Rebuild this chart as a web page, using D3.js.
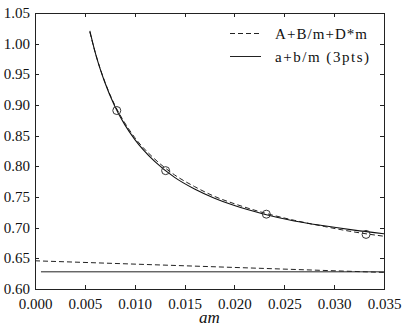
<!DOCTYPE html>
<meta charset="utf-8">
<style>
  html, body {
    margin: 0;
    padding: 0;
    background: #fff;
    overflow: hidden;
  }
  .axis text {
    font-family: "Liberation Serif", "Times New Roman", "DejaVu Serif", serif;
    font-size: 15px;
    fill: #111;
  }
  .axis path,
  .axis line {
    fill: none;
    stroke: #222;
    stroke-width: 1px;
    shape-rendering: crispEdges;
  }
  .legend text {
    font-family: "Liberation Serif", "Times New Roman", "DejaVu Serif", serif;
    font-size: 15px;
    fill: #111;
  }
  .xlabel {
    font-family: "Liberation Serif", "Times New Roman", "DejaVu Serif", serif;
    font-style: italic;
    font-size: 17px;
    fill: #111;
  }
</style>
<svg></svg>
<script src="https://d3js.org/d3.v7.min.js"></script>
<script>

// data points (am, value)
var pointsAm = [0.0082, 0.0131, 0.0232, 0.0332];
var pointsVal = [0.891, 0.793, 0.722, 0.689];

// fit A+B/m+D*m
var fitAm = [0.0055, 0.006, 0.007, 0.008, 0.009, 0.010, 0.012, 0.014, 0.016, 0.018, 0.020, 0.023, 0.026, 0.029, 0.032, 0.035];
var fitVal = [1.019, 0.988, 0.938, 0.900, 0.871, 0.847, 0.812, 0.786, 0.767, 0.751, 0.739, 0.724, 0.712, 0.702, 0.693, 0.686];

// fit a+b/m (3pts)
var fit3Am = [0.0055, 0.006, 0.007, 0.008, 0.009, 0.010, 0.012, 0.014, 0.016, 0.018, 0.020, 0.023, 0.026, 0.029, 0.032, 0.035];
var fit3Val = [1.021, 0.988, 0.937, 0.898, 0.868, 0.844, 0.808, 0.782, 0.763, 0.748, 0.736, 0.722, 0.711, 0.703, 0.696, 0.690];

// A + D*m line and constant a
var lineAm = [0.0, 0.035];
var lineVal = [0.646, 0.627];
var constAm = [0.0006, 0.035];
var constVal = [0.628, 0.628];

var xTicks = [0, 0.005, 0.010, 0.015, 0.020, 0.025, 0.030, 0.035];
var yTicks = [0.60, 0.65, 0.70, 0.75, 0.80, 0.85, 0.90, 0.95, 1.00, 1.05];

var legendLabels = ["A+B/m+D*m", "a+b/m (3pts)"];

var margin = {top: 13, right: 23, bottom: 44, left: 35},
    width = 407 - margin.left - margin.right,
    height = 333 - margin.top - margin.bottom;

var svg = d3.select("svg")
    .attr("width", 407)
    .attr("height", 333);

var g = svg.append("g")
    .attr("transform", "translate(" + margin.left + "," + margin.top + ")");

var x = d3.scaleLinear().domain([0, 0.035]).range([0, width]),
    y = d3.scaleLinear().domain([0.60, 1.05]).range([height, 0]);

function zip(a, b) { return a.map(function(v, i) { return [v, b[i]]; }); }

var line = d3.line()
    .x(function(d) { return x(d[0]); })
    .y(function(d) { return y(d[1]); })
    .curve(d3.curveMonotoneX);

// axes with inward ticks on all four sides
g.append("g")
    .attr("class", "axis axis--x")
    .attr("transform", "translate(0," + height + ")")
    .call(d3.axisBottom(x).tickValues(xTicks).tickFormat(d3.format(".3f")).tickSizeInner(-4).tickSizeOuter(0).tickPadding(9));

g.append("g")
    .attr("class", "axis axis--x2")
    .call(d3.axisTop(x).tickValues(xTicks).tickFormat("").tickSizeInner(-4).tickSizeOuter(0));

g.append("g")
    .attr("class", "axis axis--y")
    .call(d3.axisLeft(y).tickValues(yTicks).tickFormat(d3.format(".2f")).tickSizeInner(-4).tickSizeOuter(0).tickPadding(5));

g.append("g")
    .attr("class", "axis axis--y2")
    .attr("transform", "translate(" + width + ",0)")
    .call(d3.axisRight(y).tickValues(yTicks).tickFormat("").tickSizeInner(-4).tickSizeOuter(0));

// drop the default sans-serif set by d3 axis
g.selectAll(".axis").attr("font-family", null).attr("font-size", null);
g.selectAll(".axis--y text").attr("dy", "0.3em");

// lines
g.append("path")
    .datum(zip(lineAm, lineVal))
    .attr("d", line)
    .attr("fill", "none")
    .attr("stroke", "#222")
    .attr("stroke-dasharray", "5,3");

g.append("path")
    .datum(zip(constAm, constVal))
    .attr("d", line)
    .attr("fill", "none")
    .attr("stroke", "#222");

g.append("path")
    .datum(zip(fitAm, fitVal))
    .attr("d", line)
    .attr("fill", "none")
    .attr("stroke", "#222")
    .attr("stroke-dasharray", "5,3");

g.append("path")
    .datum(zip(fit3Am, fit3Val))
    .attr("d", line)
    .attr("fill", "none")
    .attr("stroke", "#111")
    .attr("stroke-width", 1.1);

g.selectAll(".pt")
    .data(zip(pointsAm, pointsVal))
  .enter().append("circle")
    .attr("class", "pt")
    .attr("cx", function(d) { return x(d[0]); })
    .attr("cy", function(d) { return y(d[1]); })
    .attr("r", 4)
    .attr("fill", "none")
    .attr("stroke", "#333");

// frame
g.append("rect")
    .attr("x", 0.5)
    .attr("y", 0.5)
    .attr("width", width)
    .attr("height", height)
    .attr("fill", "none")
    .attr("stroke", "#222")
    .style("shape-rendering", "crispEdges");

// axis label
svg.append("text")
    .attr("class", "xlabel")
    .attr("x", margin.left + width / 2)
    .attr("y", 323)
    .attr("text-anchor", "middle")
    .text("am");

// legend
var legend = svg.append("g").attr("class", "legend");
var legendRows = legend.selectAll("g")
    .data(legendLabels)
  .enter().append("g")
    .attr("transform", function(d, i) { return "translate(230," + (33.5 + i * 23) + ")"; });

legendRows.append("line")
    .attr("x1", 0)
    .attr("x2", 31)
    .attr("stroke", "#222")
    .attr("stroke-dasharray", function(d, i) { return i === 0 ? "5,3" : null; });

legendRows.append("text")
    .attr("x", 45)
    .attr("y", 5)
    .attr("textLength", function(d, i) { return i === 0 ? 92 : 94; })
    .attr("lengthAdjust", "spacing")
    .text(function(d) { return d; });

</script>
